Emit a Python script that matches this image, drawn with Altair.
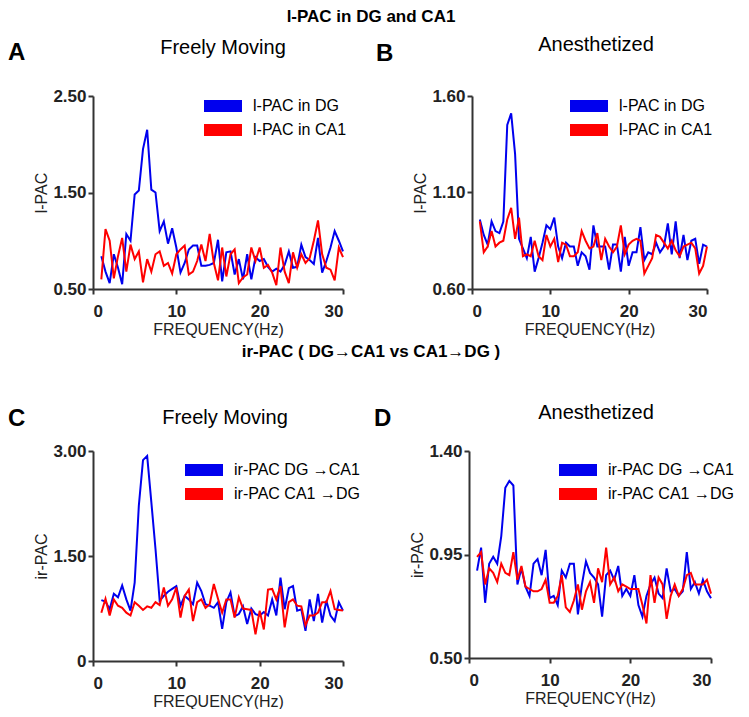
import altair as alt
import pandas as pd

FREQ = [1.0, 1.5, 2.0, 2.5, 3.0, 3.5, 4.0, 4.5, 5.0, 5.5, 6.0, 6.5, 7.0, 7.5, 8.0, 8.5, 9.0, 9.5, 10.0, 10.5,
        11.0, 11.5, 12.0, 12.5, 13.0, 13.5, 14.0, 14.5, 15.0, 15.5, 16.0, 16.5, 17.0, 17.5, 18.0, 18.5, 19.0, 19.5,
        20.0, 20.5, 21.0, 21.5, 22.0, 22.5, 23.0, 23.5, 24.0, 24.5, 25.0, 25.5, 26.0, 26.5, 27.0, 27.5, 28.0, 28.5,
        29.0, 29.5, 30.0]

A_DG = [0.84, 0.68, 0.56, 0.86, 0.72, 0.55, 1.07, 1.00, 1.48, 1.52, 1.95, 2.15, 1.53, 1.50, 1.10, 1.20, 0.97, 1.13, 0.93, 0.67,
        0.77, 0.91, 0.95, 0.95, 0.74, 0.74, 0.75, 0.77, 1.01, 0.58, 0.88, 0.89, 0.65, 0.81, 0.60, 0.86, 0.60, 0.83, 0.79, 0.81,
        0.73, 0.68, 0.71, 0.68, 0.75, 0.89, 0.72, 0.73, 0.96, 0.83, 0.80, 0.76, 1.03, 0.67, 0.79, 0.93, 1.10, 1.00, 0.89]
A_CA1 = [0.60, 1.12, 1.00, 0.61, 0.84, 1.03, 0.68, 0.96, 0.81, 0.89, 0.57, 0.81, 0.68, 0.86, 0.89, 0.74, 0.77, 0.66, 0.86, 0.91,
         0.95, 0.65, 0.68, 0.79, 0.96, 0.79, 1.07, 0.77, 0.59, 0.93, 0.63, 0.86, 0.91, 0.56, 0.62, 0.65, 0.93, 0.79, 0.93, 0.72,
         0.75, 0.67, 0.54, 0.93, 0.68, 0.56, 0.88, 0.72, 0.86, 0.77, 0.82, 1.00, 1.21, 0.86, 0.72, 0.70, 0.59, 0.93, 0.83]
B_DG = [0.96, 0.88, 0.83, 0.95, 0.90, 0.89, 0.95, 1.45, 1.51, 1.30, 0.86, 0.81, 0.76, 0.87, 0.69, 0.76, 0.84, 0.93, 0.91, 0.97,
        0.82, 0.76, 0.84, 0.82, 0.82, 0.72, 0.79, 0.77, 0.70, 0.93, 0.82, 0.82, 0.82, 0.70, 0.83, 0.83, 0.69, 0.87, 0.72, 0.79,
        0.79, 0.92, 0.75, 0.79, 0.78, 0.84, 0.79, 0.82, 0.94, 0.78, 0.95, 0.76, 0.88, 0.75, 0.85, 0.86, 0.73, 0.83, 0.82]
B_CA1 = [0.95, 0.79, 0.82, 0.90, 0.82, 0.84, 0.85, 0.96, 1.02, 0.86, 0.97, 0.77, 0.78, 0.77, 0.85, 0.77, 0.75, 0.88, 0.82, 0.86,
         0.74, 0.84, 0.83, 0.77, 0.77, 0.79, 0.90, 0.85, 0.81, 0.82, 0.89, 0.75, 0.86, 0.82, 0.79, 0.82, 0.93, 0.78, 0.83, 0.85,
         0.86, 0.85, 0.68, 0.72, 0.76, 0.88, 0.87, 0.84, 0.81, 0.85, 0.80, 0.77, 0.82, 0.83, 0.84, 0.81, 0.68, 0.72, 0.82]
C_DG_CA1 = [0.87, 0.85, 0.74, 0.96, 0.91, 1.08, 0.88, 0.72, 1.12, 2.22, 2.87, 2.93, 2.27, 1.60, 0.86, 0.93, 0.99, 1.03, 1.07, 0.79,
            0.93, 0.88, 0.81, 1.12, 1.00, 0.81, 0.79, 0.76, 0.84, 0.46, 0.84, 0.98, 0.64, 0.67, 0.78, 0.53, 0.75, 0.67, 0.65, 0.70,
            0.65, 0.88, 0.65, 1.19, 0.74, 1.04, 1.07, 0.72, 0.74, 0.43, 0.88, 0.57, 0.96, 0.55, 0.86, 0.65, 0.57, 0.84, 0.72]
C_CA1_DG = [0.69, 0.89, 0.65, 0.88, 0.79, 0.76, 0.69, 0.65, 0.84, 0.79, 0.73, 0.78, 0.76, 0.84, 0.80, 1.05, 0.79, 0.88, 1.05, 0.62,
            0.93, 1.02, 0.57, 0.84, 0.88, 0.76, 0.81, 1.10, 0.89, 0.69, 0.88, 0.88, 0.62, 0.91, 0.75, 0.74, 0.73, 0.38, 0.72, 0.45,
            1.02, 1.03, 0.88, 1.07, 0.48, 0.84, 0.88, 0.79, 0.78, 0.51, 0.65, 0.65, 0.69, 0.84, 0.84, 1.00, 0.74, 0.73, 0.72]
D_DG_CA1 = [0.88, 0.98, 0.74, 0.91, 0.94, 0.91, 1.03, 1.24, 1.27, 1.25, 0.82, 0.89, 0.81, 0.77, 0.91, 0.93, 0.86, 0.97, 0.76, 0.77,
            0.73, 0.88, 0.85, 0.91, 0.91, 0.69, 0.82, 0.92, 0.87, 0.85, 0.82, 0.68, 0.86, 0.88, 0.84, 0.90, 0.77, 0.80, 0.77, 0.86,
            0.73, 0.68, 0.77, 0.82, 0.85, 0.78, 0.76, 0.89, 0.79, 0.80, 0.77, 0.79, 0.96, 0.80, 0.83, 0.78, 0.84, 0.79, 0.76]
D_CA1_DG = [0.94, 0.96, 0.82, 0.89, 0.87, 0.83, 0.91, 0.87, 0.86, 0.96, 0.84, 0.90, 0.81, 0.80, 0.79, 0.79, 0.80, 0.84, 0.74, 0.74,
            0.77, 0.86, 0.72, 0.70, 0.75, 0.82, 0.71, 0.79, 0.83, 0.74, 0.89, 0.83, 0.98, 0.82, 0.85, 0.79, 0.82, 0.81, 0.80, 0.80,
            0.80, 0.73, 0.65, 0.86, 0.74, 0.85, 0.82, 0.67, 0.77, 0.82, 0.77, 0.80, 0.86, 0.87, 0.82, 0.82, 0.82, 0.84, 0.78]

NAMES_L = ["l-PAC in DG", "l-PAC in CA1"]
NAMES_IR = ["ir-PAC DG \u2192CA1", "ir-PAC CA1 \u2192DG"]
X_TICKS = [0, 10, 20, 30]
COLORS = ["#0000ee", "#ff0000"]
FONT = "Liberation Sans"


def panel(blue, red, names, ydom, yticks, ytitle, subtitle, letter, w, h,
          leg_x, leg_y, sub_x, sub_y, let_x, let_y):
    df = pd.DataFrame({
        "freq": FREQ + FREQ,
        "value": blue + red,
        "series": [names[0]] * len(FREQ) + [names[1]] * len(FREQ),
    })
    lines = alt.Chart(df).mark_line(strokeWidth=2).encode(
        x=alt.X("freq:Q", scale=alt.Scale(domain=[0, 30], nice=False),
                axis=alt.Axis(values=X_TICKS, title="FREQUENCY(Hz)", format="d")),
        y=alt.Y("value:Q", scale=alt.Scale(domain=ydom, nice=False, zero=False),
                axis=alt.Axis(values=yticks, title=ytitle,
                              labelExpr="datum.value == 0 ? '0' : format(datum.value, '.2f')")),
        color=alt.Color("series:N", scale=alt.Scale(domain=names, range=COLORS),
                        legend=alt.Legend(title=None, orient="none", legendX=leg_x, legendY=leg_y,
                                          symbolType="stroke", symbolStrokeWidth=12, symbolSize=1444,
                                          clipHeight=16, labelFontSize=16, labelFont=FONT,
                                          labelColor="black", labelOffset=5, rowPadding=8, padding=0)),
    )
    lab = alt.Chart(pd.DataFrame({"t": [letter]})).mark_text(
        font=FONT, fontSize=24, fontWeight="bold", color="black", align="left", baseline="middle"
    ).encode(text="t:N", x=alt.value(let_x), y=alt.value(let_y))
    sub = alt.Chart(pd.DataFrame({"t": [subtitle]})).mark_text(
        font=FONT, fontSize=20, color="black", align="center", baseline="middle"
    ).encode(text="t:N", x=alt.value(sub_x), y=alt.value(sub_y))
    return alt.layer(lines, lab, sub).properties(width=w, height=h)


pA = panel(A_DG, A_CA1, NAMES_L, [0.5, 2.5], [0.5, 1.5, 2.5], "l-PAC", "Freely Moving", "A",
           250, 193, 105, 2, 130, -48, -85, -43)
pB = panel(B_DG, B_CA1, NAMES_L, [0.6, 1.6], [0.6, 1.1, 1.6], "l-PAC", "Anesthetized", "B",
           235, 193, 92, 2, 124, -51, -96, -42)
pC = panel(C_DG_CA1, C_CA1_DG, NAMES_IR, [0, 3.0], [0, 1.5, 3.0], "ir-PAC", "Freely Moving", "C",
           250, 210, 86, 11, 132, -33, -85, -32)
pD = panel(D_DG_CA1, D_CA1_DG, NAMES_IR, [0.5, 1.4], [0.5, 0.95, 1.4], "ir-PAC", "Anesthetized", "D",
           242, 207, 84, 11, 127, -38, -95, -32)

row1 = alt.hconcat(pA, pB, spacing=29).resolve_scale(color="independent")
row2 = alt.hconcat(pC, pD, spacing=14,
                   title=alt.TitleParams("ir-PAC ( DG\u2192CA1 vs CA1\u2192DG )", fontSize=17, font=FONT,
                                         fontWeight="bold", color="black", anchor="middle", offset=42)
                   ).resolve_scale(color="independent")

chart = alt.vconcat(row1, row2, spacing=6).resolve_scale(color="independent").properties(
    title=alt.TitleParams("l-PAC in DG and CA1", fontSize=17, font=FONT, fontWeight="bold",
                          color="black", anchor="middle", offset=9),
    padding={"left": 0, "top": 0, "right": 0, "bottom": 0},
).configure_view(stroke=None).configure_axis(
    grid=False, domainColor="#333", domainWidth=2, tickColor="#333", tickWidth=2, tickSize=5,
    labelFont=FONT, labelFontSize=17, labelFontWeight="bold", labelColor="#222", labelPadding=2,
    titleFont=FONT, titleFontSize=16, titleFontWeight="normal", titleColor="#222",
).configure_axisY(titlePadding=3).configure_axisX(labelPadding=9, titlePadding=2)

chart.save("out.html", embed_options={"renderer": "svg", "actions": False})
